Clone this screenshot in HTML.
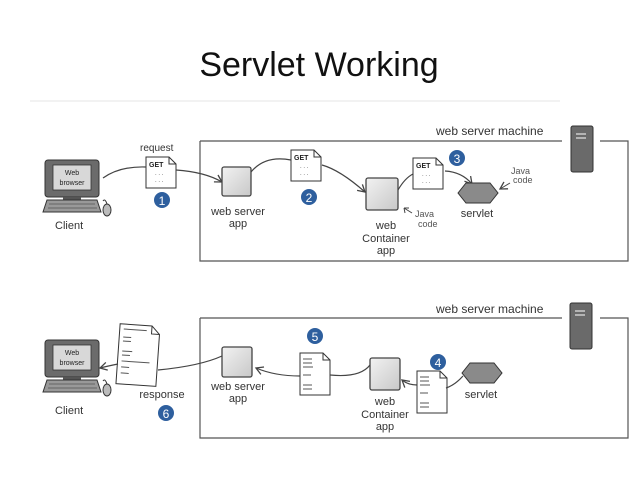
<!DOCTYPE html>
<html><head><meta charset="utf-8"><style>
html,body{margin:0;padding:0;background:#fff;width:638px;height:479px;overflow:hidden}
svg text{font-family:"Liberation Sans",sans-serif}
</style></head><body>
<svg width="638" height="479" viewBox="0 0 638 479" xmlns="http://www.w3.org/2000/svg">
<defs>
<marker id="ar" markerWidth="10" markerHeight="10" refX="8" refY="5" orient="auto" markerUnits="userSpaceOnUse">
<path d="M1,1 L8,5 L1,9" fill="none" stroke="#444" stroke-width="1.3"/></marker>
<linearGradient id="bx" x1="0" y1="0" x2="1" y2="1"><stop offset="0" stop-color="#f2f2f2"/><stop offset="1" stop-color="#c8c8c8"/></linearGradient>
<g id="client">
<rect x="0" y="0" width="54" height="37" rx="3" fill="#6b6b6b" stroke="#333"/>
<rect x="8" y="5" width="38" height="25" fill="#d8d8d8" stroke="#333" stroke-width="0.8"/>
<text x="27" y="15" font-size="7" text-anchor="middle" fill="#222">Web</text>
<text x="27" y="25" font-size="7" text-anchor="middle" fill="#222">browser</text>
<rect x="18" y="37" width="18" height="3" fill="#555"/>
<path d="M-2,52 L2,40 L52,40 L56,52 Z" fill="#999" stroke="#333"/>
<path d="M4,44 H50 M3,48 H52" stroke="#333" stroke-width="0.6"/>
<ellipse cx="62" cy="50" rx="4" ry="6" fill="#bbb" stroke="#333"/>
<path d="M58,41 Q60,38 62,44" fill="none" stroke="#333"/>
</g>
<g id="server">
<rect x="0" y="0" width="22" height="46" rx="2" fill="#6a6a6a" stroke="#333"/>
<path d="M5,8 H15 M5,12 H15" stroke="#ccc" stroke-width="1.5"/>
</g>
<g id="get">
<path d="M0,0 H23 L30,7 V31 H0 Z" fill="#fff" stroke="#333"/>
<path d="M23,0 V7 H30" fill="none" stroke="#333"/>
<text x="3" y="10" font-size="7" font-family="Liberation Mono" font-weight="bold" fill="#222">GET</text>
<text x="9" y="18" font-size="6" fill="#555">. . .</text>
<text x="9" y="25" font-size="6" fill="#555">. . .</text>
</g>
<g id="html">
<path d="M0,0 H23 L30,7 V42 H0 Z" fill="#fff" stroke="#333"/>
<path d="M23,0 V7 H30" fill="none" stroke="#333"/>
<path d="M3,6 H12 M3,10 H12 M3,14 H13 M3,22 H11 M3,32 H12 M3,36 H12" stroke="#555" stroke-width="1"/>
</g>
<g id="hex"><path d="M-20,0 L-12,-10 L12,-10 L20,0 L12,10 L-12,10 Z" fill="#8a8a8a" stroke="#333"/></g>
</defs>

<text x="319" y="76" font-size="34" text-anchor="middle" fill="#111">Servlet Working</text>
<line x1="30" y1="101" x2="560" y2="101" stroke="#eee" stroke-width="1.5"/>

<!-- TOP -->
<path d="M200,141 V261 H628 V141 H600 M562,141 H200" fill="none" stroke="#555" stroke-width="1.2"/>
<text x="436" y="135" font-size="12" fill="#333">web server machine</text>
<use href="#server" x="571" y="126"/>
<use href="#client" x="45" y="160"/>
<text x="55" y="229" font-size="11" fill="#333">Client</text>
<text x="140" y="151" font-size="10" fill="#333">request</text>
<use href="#get" x="146" y="157"/>
<circle cx="162" cy="200" r="8" fill="#2e5f9e"/><text x="162" y="205" font-size="12" fill="#fff" text-anchor="middle">1</text>
<path d="M103,178 Q120,166 146,167" fill="none" stroke="#444" stroke-width="1.2"/>
<path d="M176,170 Q205,172 222,182" fill="none" stroke="#444" stroke-width="1.2" marker-end="url(#ar)"/>
<rect x="222" y="167" width="29" height="29" rx="2" fill="url(#bx)" stroke="#444" stroke-width="1.3"/>
<text x="238" y="215" font-size="11" text-anchor="middle" fill="#333">web server</text>
<text x="238" y="227" font-size="11" text-anchor="middle" fill="#333">app</text>
<path d="M251,172 Q265,155 291,160" fill="none" stroke="#444" stroke-width="1.2"/>
<use href="#get" x="291" y="150"/>
<circle cx="309" cy="197" r="8" fill="#2e5f9e"/><text x="309" y="202" font-size="12" fill="#fff" text-anchor="middle">2</text>
<path d="M322,165 Q340,170 365,192" fill="none" stroke="#444" stroke-width="1.2" marker-end="url(#ar)"/>
<rect x="366" y="178" width="32" height="32" rx="2" fill="url(#bx)" stroke="#444" stroke-width="1.3"/>
<text x="386" y="229" font-size="11" text-anchor="middle" fill="#333">web</text>
<text x="386" y="242" font-size="11" text-anchor="middle" fill="#333">Container</text>
<text x="386" y="254" font-size="11" text-anchor="middle" fill="#333">app</text>
<text x="415" y="217" font-size="9" fill="#555">Java</text>
<text x="418" y="227" font-size="9" fill="#555">code</text>
<path d="M412,213 L404,208 M404,208 L409,208 M404,208 L405,213" stroke="#444" fill="none"/>
<path d="M398,190 Q405,178 413,174" fill="none" stroke="#444" stroke-width="1.2"/>
<use href="#get" x="413" y="158"/>
<circle cx="457" cy="158" r="8" fill="#2e5f9e"/><text x="457" y="163" font-size="12" fill="#fff" text-anchor="middle">3</text>
<path d="M445,171 Q462,172 472,184" fill="none" stroke="#444" stroke-width="1.2" marker-end="url(#ar)"/>
<use href="#hex" x="478" y="193"/>
<text x="477" y="217" font-size="11" text-anchor="middle" fill="#333">servlet</text>
<text x="511" y="174" font-size="9" fill="#555">Java</text>
<text x="513" y="183" font-size="9" fill="#555">code</text>
<path d="M510,183 L500,189" stroke="#444" fill="none" marker-end="url(#ar)"/>

<!-- BOTTOM -->
<path d="M200,318 V438 H628 V318 H600 M562,318 H200" fill="none" stroke="#555" stroke-width="1.2"/>
<text x="436" y="313" font-size="12" fill="#333">web server machine</text>
<use href="#server" x="570" y="303"/>
<use href="#client" x="45" y="340"/>
<text x="55" y="414" font-size="11" fill="#333">Client</text>
<g transform="rotate(4 137 355)">
<path d="M118,325 H150 L158,333 V385 H118 Z" fill="#fff" stroke="#333"/>
<path d="M150,325 V333 H158" fill="none" stroke="#333"/>
<path d="M122,330 H145 M122,338 H130 M122,342 H130 M122,352 H132 M122,356 H130 M122,362 H150 M122,368 H130 M122,374 H130" stroke="#555"/>
</g>
<path d="M117,360 Q90,368 103,366" fill="none" stroke="none"/>
<path d="M118,364 Q108,366 100,368" fill="none" stroke="#444" stroke-width="1.2" marker-end="url(#ar)"/>
<text x="162" y="398" font-size="11" text-anchor="middle" fill="#333">response</text>
<circle cx="166" cy="413" r="8" fill="#2e5f9e"/><text x="166" y="418" font-size="12" fill="#fff" text-anchor="middle">6</text>
<path d="M158,370 Q200,366 222,356" fill="none" stroke="#444" stroke-width="1.2"/>
<rect x="222" y="347" width="30" height="30" rx="2" fill="url(#bx)" stroke="#444" stroke-width="1.3"/>
<text x="238" y="390" font-size="11" text-anchor="middle" fill="#333">web server</text>
<text x="238" y="402" font-size="11" text-anchor="middle" fill="#333">app</text>
<path d="M300,376 Q275,376 256,368" fill="none" stroke="#444" stroke-width="1.2" marker-end="url(#ar)"/>
<use href="#html" x="300" y="353"/>
<circle cx="315" cy="336" r="8" fill="#2e5f9e"/><text x="315" y="341" font-size="12" fill="#fff" text-anchor="middle">5</text>
<path d="M330,375 Q360,378 370,365" fill="none" stroke="#444" stroke-width="1.2"/>
<rect x="370" y="358" width="30" height="32" rx="2" fill="url(#bx)" stroke="#444" stroke-width="1.3"/>
<text x="385" y="405" font-size="11" text-anchor="middle" fill="#333">web</text>
<text x="385" y="418" font-size="11" text-anchor="middle" fill="#333">Container</text>
<text x="385" y="430" font-size="11" text-anchor="middle" fill="#333">app</text>
<path d="M417,385 Q408,385 402,380" fill="none" stroke="#444" stroke-width="1.2" marker-end="url(#ar)"/>
<use href="#html" x="417" y="371"/>
<circle cx="438" cy="362" r="8" fill="#2e5f9e"/><text x="438" y="367" font-size="12" fill="#fff" text-anchor="middle">4</text>
<path d="M446,388 Q455,385 463,376" fill="none" stroke="#444" stroke-width="1.2"/>
<use href="#hex" x="482" y="373"/>
<text x="481" y="398" font-size="11" text-anchor="middle" fill="#333">servlet</text>
</svg>
</body></html>
